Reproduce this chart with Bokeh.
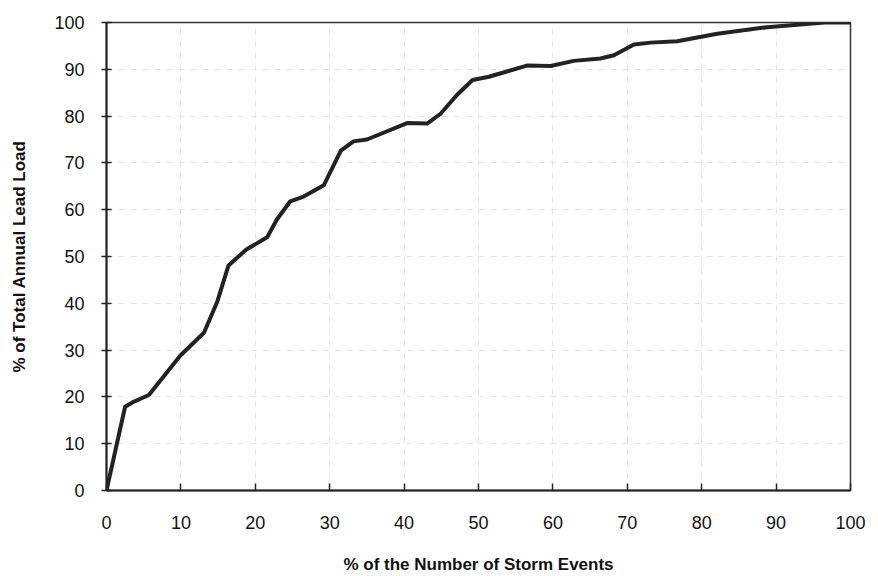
from bokeh.plotting import figure
from bokeh.models import Range1d, FixedTicker
from bokeh.embed import file_html
from bokeh.resources import INLINE

storm_pct = [0, 2.5, 3.7, 5.7, 9.9, 13.1, 14.9, 16.4, 18.8, 21.6, 22.9, 24.7, 26.5, 29.2,
             31.5, 33.2, 35, 40.4, 43.1, 44.9, 47.1, 49.2, 51.4, 56.5, 59.7, 62.8, 66.4,
             68.2, 70.9, 73.1, 76.7, 82.1, 88.8, 96.5, 100]
load_pct = [0, 17.9, 19, 20.4, 28.8, 33.7, 40.4, 48.1, 51.5, 54.1, 57.9, 61.8, 62.8, 65.2,
            72.6, 74.6, 75, 78.5, 78.4, 80.5, 84.5, 87.7, 88.4, 90.8, 90.7, 91.8, 92.3,
            93, 95.3, 95.7, 96, 97.6, 99, 100, 100]
x_ticks = [0, 10, 20, 30, 40, 50, 60, 70, 80, 90, 100]
y_ticks = [0, 10, 20, 30, 40, 50, 60, 70, 80, 90, 100]

p = figure(width=872, height=576, output_backend="svg", toolbar_location=None,
           x_range=Range1d(0, 100), y_range=Range1d(0, 100),
           min_border_left=106, min_border_right=22, min_border_top=22, min_border_bottom=85)
p.background_fill_color = "white"
p.border_fill_color = "white"
p.outline_line_color = "#333333"
p.outline_line_width = 1.5

p.line(storm_pct, load_pct, line_color="#222222", line_width=4, line_join="round")

font = "Liberation Sans"
for ax in (p.xaxis, p.yaxis):
    ax.axis_line_color = "#222222"
    ax.axis_line_width = 2
    ax.major_tick_line_color = "#222222"
    ax.major_tick_line_width = 1.5
    ax.minor_tick_line_color = None
    ax.major_label_text_font = font
    ax.major_label_text_font_size = "18px"
    ax.major_label_text_color = "#111111"
    ax.axis_label_text_font = font
    ax.axis_label_text_font_size = "17px"
    ax.axis_label_text_font_style = "bold"
    ax.axis_label_text_color = "#111111"

p.xaxis.ticker = FixedTicker(ticks=x_ticks)
p.yaxis.ticker = FixedTicker(ticks=y_ticks)
p.xaxis.major_tick_in = 7
p.xaxis.major_tick_out = 0
p.yaxis.major_tick_in = 5
p.yaxis.major_tick_out = 5
p.xaxis.major_label_standoff = 25
p.yaxis.major_label_standoff = 17
p.xaxis.axis_label = "% of the Number of Storm Events"
p.yaxis.axis_label = "% of Total Annual Lead Load"
p.xaxis.axis_label_standoff = 23
p.yaxis.axis_label_standoff = 22

p.xgrid.grid_line_color = "#e4e4e4"
p.ygrid.grid_line_color = "#e4e4e4"
p.xgrid.grid_line_dash = "6 6"
p.ygrid.grid_line_dash = "6 6"
p.xgrid.grid_line_width = 1
p.ygrid.grid_line_width = 1

open("out.html", "w").write(file_html(p, INLINE))
